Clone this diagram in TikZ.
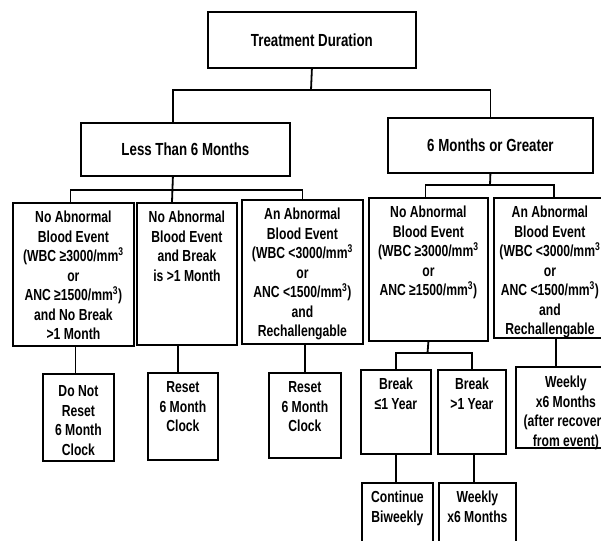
\documentclass[tikz,border=0pt]{standalone}
\usepackage{fontspec}
\newfontfamily\cf{Liberation Sans}[FakeStretch=0.76]
\newcommand\tbox[4]{\parbox[t][#2][t]{#1}{\centering\rule{0pt}{#3}#4}}
\begin{document}
\begin{tikzpicture}[x=1pt,y=-1pt,
  bx/.style={draw, line width=1.8pt, inner sep=0pt, anchor=north west, align=center},
  big/.style={font=\cf\bfseries\fontsize{17.5}{19.5}\selectfont},
  sm/.style={font=\cf\bfseries\fontsize{16}{19.5}\selectfont},
  ln/.style={line width=1.8pt}]
\useasboundingbox (0,0) rectangle (601,540);
\clip (0,0) rectangle (601,540);
% top levels
\node[bx,big,minimum width=208pt,minimum height=56pt] (td) at (207,11) {Treatment Duration};
\node[bx,big,minimum width=209pt,minimum height=53pt] (less) at (80,122) {Less Than 6 Months};
\node[bx,big,minimum width=205pt,minimum height=55pt] (six) at (387,117) {6 Months or Greater};
% level 3
\node[bx,sm] (b1) at (12,202) {\tbox{121pt}{143pt}{20pt}{No Abnormal\\Blood Event\\(WBC ≥3000/mm\textsuperscript{3}\\or\\ANC ≥1500/mm\textsuperscript{3})\\and No Break\\>1 Month}};
\node[bx,sm] (b2) at (136,202) {\tbox{100pt}{142pt}{20pt}{No Abnormal\\Blood Event\\and Break\\is >1 Month}};
\node[bx,sm] (b3) at (241,199) {\tbox{121pt}{144pt}{20pt}{An Abnormal\\Blood Event\\(WBC <3000/mm\textsuperscript{3}\\or\\ANC <1500/mm\textsuperscript{3})\\and\\Rechallengable}};
\node[bx,sm] (b4) at (368,197) {\tbox{119pt}{143pt}{20pt}{No Abnormal\\Blood Event\\(WBC ≥3000/mm\textsuperscript{3}\\or\\ANC ≥1500/mm\textsuperscript{3})}};
\node[bx,sm] (b5) at (493,197) {\tbox{112pt}{140pt}{20pt}{An Abnormal\\Blood Event\\(WBC <3000/mm\textsuperscript{3}\\or\\ANC <1500/mm\textsuperscript{3})\\and\\Rechallengable}};
% level 4
\node[bx,sm] (c1) at (42,373) {\tbox{71pt}{87pt}{23pt}{Do Not\\Reset\\6 Month\\Clock}};
\node[bx,sm] (c2) at (147,372) {\tbox{70pt}{87pt}{20pt}{Reset\\6 Month\\Clock}};
\node[bx,sm] (c3) at (268,372) {\tbox{72pt}{85pt}{20pt}{Reset\\6 Month\\Clock}};
\node[bx,sm] (d1) at (360,369) {\tbox{70pt}{84pt}{20pt}{Break\\≤1 Year}};
\node[bx,sm] (d2) at (437,369) {\tbox{68pt}{84pt}{20pt}{Break\\>1 Year}};
\node[bx,sm] (d3) at (515,366) {\tbox{100pt}{81pt}{21pt}{Weekly\\x6 Months\\(after recovery\\from event)}};
% level 5
\node[bx,sm] (e1) at (361,482) {\tbox{71pt}{70pt}{20pt}{Continue\\Biweekly}};
\node[bx,sm] (e2) at (438,482) {\tbox{77pt}{70pt}{20pt}{Weekly\\x6 Months}};
% connectors
\coordinate (h1) at (311,90);
\draw[ln] (td.south) -- (h1);
\draw[ln] ([xshift=-12.5pt]less.north) |- (h1) -| (six.north);
\coordinate (h2) at (172,190);
\draw[ln] ([xshift=-12.5pt]less.south) -- (b2.north -| h2);
\draw[ln] ([xshift=-3pt]b1.north) |- (h2) -| (b3.north);
\coordinate (h3) at (490,185);
\draw[ln] (six.south) -- (h3);
\draw[ln] ([xshift=-3pt]b4.north) |- (h3) -| ([xshift=4pt]b5.north);
\draw[ln] ([xshift=-3pt]c1.north) -- ([xshift=-3pt]c1.north |- b1.south);
\draw[ln] ([xshift=-5pt]c2.north) -- ([xshift=-5pt]c2.north |- b2.south);
\draw[ln] (c3.north) -- (c3.north |- b3.south);
\coordinate (h4) at (427.5,353);
\draw[ln] (b4.south) -- (h4);
\draw[ln] (d1.north) |- (h4) -| (d2.north);
\draw[ln] ([xshift=6pt]b5.south) -- ([xshift=6pt]b5.south |- d3.north);
\draw[ln] (d1.south) -- (d1.south |- e1.north);
\draw[ln] ([xshift=2pt]d2.south) -- ([xshift=2pt]d2.south |- e2.north);
\end{tikzpicture}
\end{document}
